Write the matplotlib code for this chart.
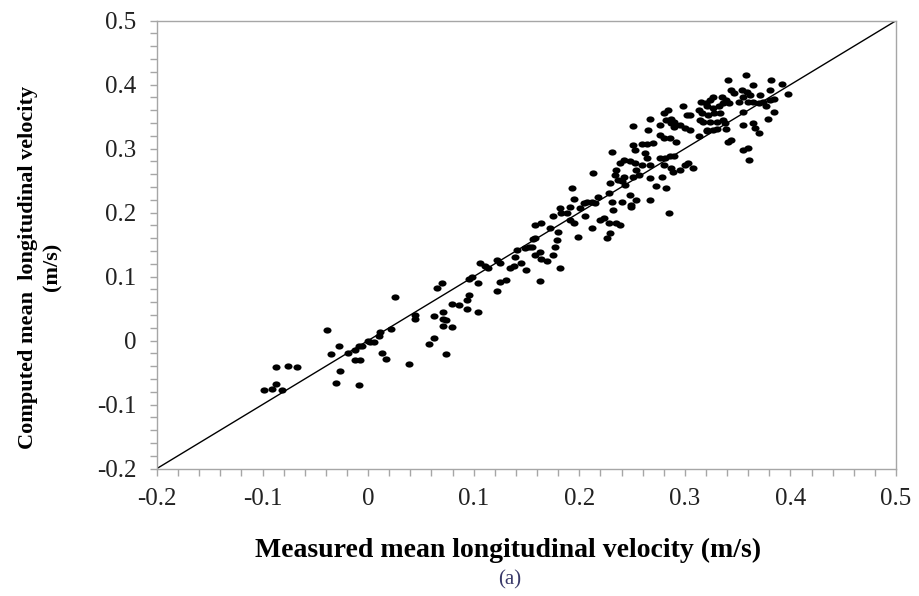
import matplotlib
matplotlib.use("Agg")
import matplotlib.pyplot as plt
from matplotlib.path import Path
from matplotlib.transforms import Affine2D
from matplotlib.ticker import MultipleLocator

# measured (x) vs computed (y) mean longitudinal velocity, m/s
measured = [
    -0.099, -0.091, -0.087, -0.082, -0.087, -0.076, -0.067, -0.039, -0.035, -0.028,
    -0.027, -0.030, -0.019, -0.012, -0.009, -0.006, -0.012, -0.008, 0.000, 0.002,
    0.006, 0.010, 0.011, 0.022, 0.013, 0.017, -0.009, 0.039, 0.044, 0.044,
    0.025, 0.062, 0.062, 0.065, 0.070, 0.071, 0.071, 0.074, 0.071, 0.079,
    0.079, 0.086, 0.094, 0.104, 0.094, 0.096, 0.096, 0.098, 0.104, 0.106,
    0.111, 0.114, 0.122, 0.125, 0.122, 0.125, 0.131, 0.134, 0.138, 0.139,
    0.141, 0.145, 0.150, 0.149, 0.152, 0.155, 0.158, 0.158, 0.163, 0.164,
    0.169, 0.163, 0.158, 0.164, 0.156, 0.175, 0.172, 0.180, 0.179, 0.177,
    0.175, 0.182, 0.182, 0.183, 0.188, 0.191, 0.193, 0.195, 0.191, 0.195,
    0.199, 0.201, 0.204, 0.205, 0.207, 0.212, 0.215, 0.212, 0.213, 0.218,
    0.220, 0.223, 0.228, 0.229, 0.226, 0.228, 0.229, 0.231, 0.232, 0.234,
    0.235, 0.239, 0.242, 0.237, 0.240, 0.243, 0.231, 0.235, 0.239, 0.240,
    0.248, 0.249, 0.251, 0.254, 0.253, 0.254, 0.251, 0.265, 0.267, 0.276,
    0.280, 0.284, 0.282, 0.287, 0.290, 0.298, 0.302, 0.305, 0.295, 0.300,
    0.305, 0.276, 0.280, 0.286, 0.292, 0.251, 0.259, 0.264, 0.270, 0.253,
    0.262, 0.248, 0.259, 0.264, 0.267, 0.257, 0.242, 0.276, 0.281, 0.286,
    0.290, 0.280, 0.287, 0.289, 0.295, 0.300, 0.303, 0.308, 0.313, 0.321,
    0.330, 0.267, 0.278, 0.273, 0.282, 0.249, 0.267, 0.285, 0.341, 0.315,
    0.320, 0.313, 0.316, 0.317, 0.314, 0.287, 0.290, 0.341, 0.358, 0.365,
    0.382, 0.392, 0.398, 0.381, 0.384, 0.344, 0.347, 0.354, 0.359, 0.362,
    0.355, 0.371, 0.374, 0.370, 0.360, 0.365, 0.351, 0.335, 0.339, 0.336,
    0.342, 0.327, 0.324, 0.321, 0.327, 0.332, 0.322, 0.328, 0.333, 0.324,
    0.330, 0.336, 0.321, 0.327, 0.339, 0.338, 0.355, 0.377, 0.384, 0.379,
    0.355, 0.365, 0.366, 0.370, 0.344, 0.355, 0.360, 0.361, 0.381, 0.074,
    0.058,
]
computed = [
    -0.078, -0.076, -0.068, -0.078, -0.041, -0.039, -0.041, 0.017, -0.021, -0.009,
    -0.048, -0.067, -0.020, -0.015, -0.009, -0.008, -0.030, -0.030, 0.000, -0.002,
    -0.003, 0.007, 0.014, 0.018, -0.019, -0.029, -0.070, -0.037, 0.040, 0.034,
    0.068, 0.038, 0.004, 0.082, 0.090, 0.045, 0.033, 0.032, 0.023, 0.021,
    0.057, 0.056, 0.049, 0.044, 0.064, 0.071, 0.096, 0.100, 0.090, 0.121,
    0.116, 0.113, 0.126, 0.122, 0.078, 0.092, 0.095, 0.113, 0.116, 0.131,
    0.142, 0.121, 0.110, 0.144, 0.147, 0.147, 0.160, 0.134, 0.139, 0.127,
    0.125, 0.093, 0.181, 0.183, 0.158, 0.194, 0.176, 0.170, 0.157, 0.147,
    0.134, 0.113, 0.207, 0.199, 0.199, 0.209, 0.238, 0.222, 0.189, 0.183,
    0.162, 0.207, 0.215, 0.194, 0.217, 0.217, 0.215, 0.176, 0.262, 0.225,
    0.189, 0.191, 0.183, 0.168, 0.160, 0.230, 0.246, 0.217, 0.204, 0.259,
    0.267, 0.277, 0.282, 0.251, 0.249, 0.243, 0.295, 0.183, 0.181, 0.217,
    0.228, 0.212, 0.256, 0.220, 0.277, 0.267, 0.335, 0.329, 0.347, 0.337,
    0.355, 0.360, 0.345, 0.340, 0.334, 0.366, 0.353, 0.353, 0.337, 0.332,
    0.329, 0.321, 0.316, 0.316, 0.311, 0.306, 0.308, 0.308, 0.309, 0.298,
    0.293, 0.280, 0.275, 0.285, 0.275, 0.259, 0.256, 0.285, 0.285, 0.288,
    0.288, 0.275, 0.269, 0.264, 0.266, 0.275, 0.277, 0.269, 0.319, 0.327,
    0.330, 0.254, 0.256, 0.241, 0.238, 0.209, 0.220, 0.199, 0.311, 0.373,
    0.371, 0.360, 0.355, 0.342, 0.345, 0.347, 0.342, 0.408, 0.415, 0.400,
    0.408, 0.401, 0.385, 0.392, 0.377, 0.392, 0.387, 0.392, 0.389, 0.384,
    0.381, 0.384, 0.373, 0.371, 0.373, 0.373, 0.373, 0.381, 0.376, 0.371,
    0.371, 0.381, 0.376, 0.366, 0.363, 0.366, 0.353, 0.355, 0.355, 0.342,
    0.342, 0.345, 0.329, 0.329, 0.330, 0.340, 0.358, 0.366, 0.358, 0.347,
    0.337, 0.340, 0.332, 0.324, 0.313, 0.298, 0.301, 0.282, 0.376, -0.021,
    -0.006,
]

ticks = [-0.2, -0.1, 0, 0.1, 0.2, 0.3, 0.4, 0.5]
tick_labels = ["-0.2", "-0.1", "0", "0.1", "0.2", "0.3", "0.4", "0.5"]

plt.rcParams["font.family"] = ["Liberation Serif", "DejaVu Serif"]

fig = plt.figure(figsize=(9.19, 5.96), dpi=100)
ax = fig.add_axes([0.1708, 0.2139, 0.8042, 0.7514])

# slightly wide dots, like the stretched original
dot = Path.unit_circle().transformed(Affine2D().scale(1.3, 1.0))
ax.scatter(measured, computed, s=34, marker=dot, color="black", linewidths=0, zorder=3)

# 1:1 line
ax.plot([-0.2, 0.5], [-0.2, 0.5], color="black", lw=1.0, zorder=2)

ax.set_xlim(-0.2, 0.5)
ax.set_ylim(-0.2, 0.5)
ax.set_xticks(ticks)
ax.set_xticklabels(tick_labels)
ax.set_yticks(ticks)
ax.set_yticklabels(tick_labels)
ax.xaxis.set_minor_locator(MultipleLocator(0.02))
ax.yaxis.set_minor_locator(MultipleLocator(0.02))

gray = "#a6a6a6"
for sp in ax.spines.values():
    sp.set_color(gray)
    sp.set_linewidth(1.0)
ax.tick_params(which="both", direction="out", color=gray, length=5, width=1.0,
               labelsize=18, labelcolor="#222222")
ax.tick_params(axis="x", which="major", pad=9)
ax.tick_params(axis="y", which="major", pad=10)

fig.text(0.553, 0.077, "Measured mean longitudinal velocity (m/s)",
         ha="center", va="center", fontsize=20, fontweight="bold")
fig.text(0.031, 0.552, "Computed mean  longitudinal velocity",
         ha="center", va="center", rotation=90, fontsize=16, fontweight="bold")
fig.text(0.057, 0.552, "(m/s)",
         ha="center", va="center", rotation=90, fontsize=16, fontweight="bold")
fig.text(0.555, 0.027, "(a)", ha="center", va="center", fontsize=15, color="#3a3a6a")

fig.savefig("out.png", dpi=100)
